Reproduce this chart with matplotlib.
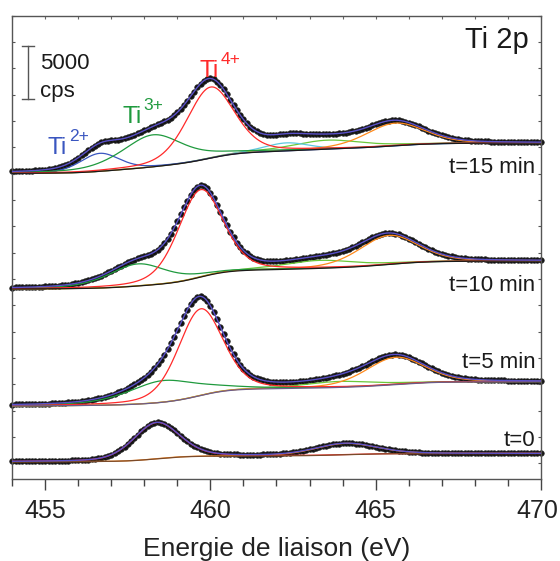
import numpy as np
import matplotlib
matplotlib.use("Agg")
import matplotlib.pyplot as plt
from matplotlib.ticker import MultipleLocator
from matplotlib.transforms import ScaledTranslation

plt.rcParams['font.family'] = ['Liberation Sans', 'DejaVu Sans']

# ---------------- data (order: t=0, t=5, t=10, t=15 min) ----------------
spectra = ["t=0", "t=5 min", "t=10 min", "t=15 min"]
energy_start, energy_stop, energy_step = 454.0, 470.0, 0.1
bg_low = [152, 5450, 16550, 27525]      # background level at 454 eV (cps)
bg_high = [930, 7748, 19210, 30412]     # background level at 470 eV (cps)

# Ti4+ 2p3/2 (red)
ti4a_center = [458.37, 459.70, 459.70, 460.00]
ti4a_height = [3450, 8232, 8300, 6750]
ti4a_fwhm = [1.65, 1.60, 1.60, 1.70]
# Ti4+ 2p1/2 (orange)
ti4b_center = [464.08, 465.60, 465.40, 465.60]
ti4b_height = [1080, 2592, 2754, 2150]
ti4b_fwhm = [2.20, 2.10, 2.10, 2.10]
# Ti3+ 2p3/2 (green)
ti3a_center = [458.5, 458.56, 457.80, 458.26]
ti3a_height = [0, 2060, 2100, 3038]
ti3a_fwhm = [2.2, 2.50, 2.10, 2.20]
# Ti3+ 2p1/2 (light green)
ti3b_center = [464.0, 463.90, 463.30, 463.54]
ti3b_height = [0, 570, 760, 855]
ti3b_fwhm = [2.5, 2.60, 2.60, 2.50]
# Ti2+ 2p3/2 (blue)
ti2a_center = [456.65, 456.65, 456.65, 456.65]
ti2a_height = [0, 0, 0, 1709]
ti2a_fwhm = [1.4, 1.4, 1.4, 1.40]
# Ti2+ 2p1/2 (cyan)
ti2b_center = [462.3, 462.3, 462.3, 462.30]
ti2b_height = [0, 0, 0, 760]
ti2b_fwhm = [1.6, 1.6, 1.6, 1.60]

# Lorentzian fraction of each component shape
eta_ti4a, eta_ti4b, eta_ti3a, eta_ti3b, eta_ti2a, eta_ti2b = 0.3, 0.3, 0.5, 0.5, 0.3, 0.3

scale_bar_cps = 5000
x_ticks = [455, 460, 465, 470]
ox_labels = ["Ti", "Ti", "Ti"]
ox_charges = ["2+", "3+", "4+"]

# ---------------- styles ----------------
col_ti4a = '#ff2a2a'
col_ti4b = '#ff8a1c'
col_ti3a = '#1f9a3e'
col_ti3b = '#6cc83a'
col_ti2a = '#3a56c0'
col_ti2b = '#5ec8e0'
col_env = '#5a50c8'
bg_colors = ['#7a4a2a', '#6b5b8a', '#1a1a1a', '#1a1a1a']


def pseudo_voigt(x, c, h, w, eta):
    g = np.exp(-4 * np.log(2) * ((x - c) / w) ** 2)
    l = 1.0 / (1.0 + 4 * ((x - c) / w) ** 2)
    return h * (eta * l + (1 - eta) * g)


energy = np.arange(energy_start, energy_stop + energy_step / 2, energy_step)
fine = np.linspace(energy_start, energy_stop, 1601)

fig = plt.figure(figsize=(5.6, 5.61), dpi=100)
ax = fig.add_axes([0.02196, 0.14563, 0.94357, 0.82638])

comp_specs = [
    (ti3b_center, ti3b_height, ti3b_fwhm, eta_ti3b, col_ti3b),
    (ti2b_center, ti2b_height, ti2b_fwhm, eta_ti2b, col_ti2b),
    (ti4b_center, ti4b_height, ti4b_fwhm, eta_ti4b, col_ti4b),
    (ti2a_center, ti2a_height, ti2a_fwhm, eta_ti2a, col_ti2a),
    (ti3a_center, ti3a_height, ti3a_fwhm, eta_ti3a, col_ti3a),
    (ti4a_center, ti4a_height, ti4a_fwhm, eta_ti4a, col_ti4a),
]


def model(x, i):
    comps = []
    for cen, hei, fw, eta, col in comp_specs:
        if hei[i] > 0:
            comps.append((pseudo_voigt(x, cen[i], hei[i], fw[i], eta), col))
    total = sum(c for c, _ in comps)
    # Shirley-type background: step proportional to cumulative peak area
    cum = np.concatenate([[0], np.cumsum((total[1:] + total[:-1]) / 2 * np.diff(x))])
    bg = bg_low[i] + (bg_high[i] - bg_low[i]) * cum / cum[-1]
    return comps, total, bg


for i, name in enumerate(spectra):
    comps_f, total_f, bg_f = model(fine, i)
    comps_d, total_d, bg_d = model(energy, i)
    ax.plot(energy, bg_d + total_d, 'o', ms=4.0, color='#111111',
            mec='#2a2a2a', mew=0.5, zorder=2, clip_on=False)
    for c, col in comps_f:
        ax.plot(fine, bg_f + c, color=col, lw=0.9, zorder=3)
    ax.plot(fine, bg_f, color=bg_colors[i], lw=0.9, zorder=4)
    ax.plot(fine, bg_f + total_f, color=col_env, lw=1.0, zorder=5)

# ---------------- axes ----------------
ax.set_xlim(energy_start, energy_stop)
ax.set_ylim(-1520, 42500)
ax.xaxis.set_minor_locator(MultipleLocator(1))
ax.yaxis.set_major_locator(MultipleLocator(2500))
ax.set_xticks(x_ticks)
ax.set_xticklabels([str(t) for t in x_ticks])
ax.tick_params(axis='x', which='major', direction='out', length=8, width=1,
               colors='#444444', labelcolor='#222222', labelsize=18, pad=6,
               top=False)
ax.tick_params(axis='x', which='minor', direction='out', length=4.8, width=1,
               colors='#444444', top=False)
ax.tick_params(axis='y', which='major', direction='in', length=2.5, width=0.8,
               colors='#555555', left=True, right=True, labelleft=False)
for s in ax.spines.values():
    s.set_color('#555555')
    s.set_linewidth(1.0)

# keep the last tick label inside the picture
last = ax.get_xticklabels()[-1]
last.set_transform(last.get_transform() + ScaledTranslation(-3 / 100, 0, fig.dpi_scale_trans))

# top inward ticks
ax_top = ax.secondary_xaxis('top')
ax_top.xaxis.set_major_locator(MultipleLocator(1))
ax_top.tick_params(direction='in', length=2.5, width=0.8, colors='#666666',
                   labeltop=False)
ax_top.spines['top'].set_visible(False)

ax.set_xlabel('Energie de liaison (eV)', fontsize=19, color='#222222', labelpad=10)

# ---------------- annotations ----------------
txt = dict(color='#1a1a1a')
ax.text(469.63, 39404, 'Ti 2p', fontsize=21, ha='right', va='baseline', **txt)
label_y = [1671, 9049, 16388, 27563]
for name, ly in zip(spectra, label_y):
    ax.text(469.84, ly, name, fontsize=16, ha='right', va='baseline', **txt)

# scale bar
sb_x, sb_y0 = 454.485, 34590
ax.plot([sb_x, sb_x], [sb_y0, sb_y0 + scale_bar_cps], color='#555555', lw=1.0)
ax.plot([sb_x - 0.18, sb_x + 0.18], [sb_y0, sb_y0], color='#555555', lw=1.0)
ax.plot([sb_x - 0.18, sb_x + 0.18], [sb_y0 + scale_bar_cps] * 2, color='#555555', lw=1.0)
ax.text(454.84, 37440, str(scale_bar_cps), fontsize=16, ha='left', va='baseline', **txt)
ax.text(454.84, 34780, 'cps', fontsize=16, ha='left', va='baseline', **txt)

# oxidation state labels (main text + superscript)
ox_x = [455.08, 457.33, 459.66]
ox_y = [29368, 32300, 36678]
ox_cols = [col_ti2a, col_ti3a, col_ti4a]
for lab, ch, lx, ly, col in zip(ox_labels, ox_charges, ox_x, ox_y, ox_cols):
    ax.text(lx, ly, lab, fontsize=17.5, color=col, ha='left', va='baseline')
    ax.annotate(ch, xy=(lx, ly), xytext=(15.2, 9.5), textcoords='offset points',
                fontsize=12.5, color=col, ha='left', va='baseline')

fig.savefig('out.png', dpi=100)
